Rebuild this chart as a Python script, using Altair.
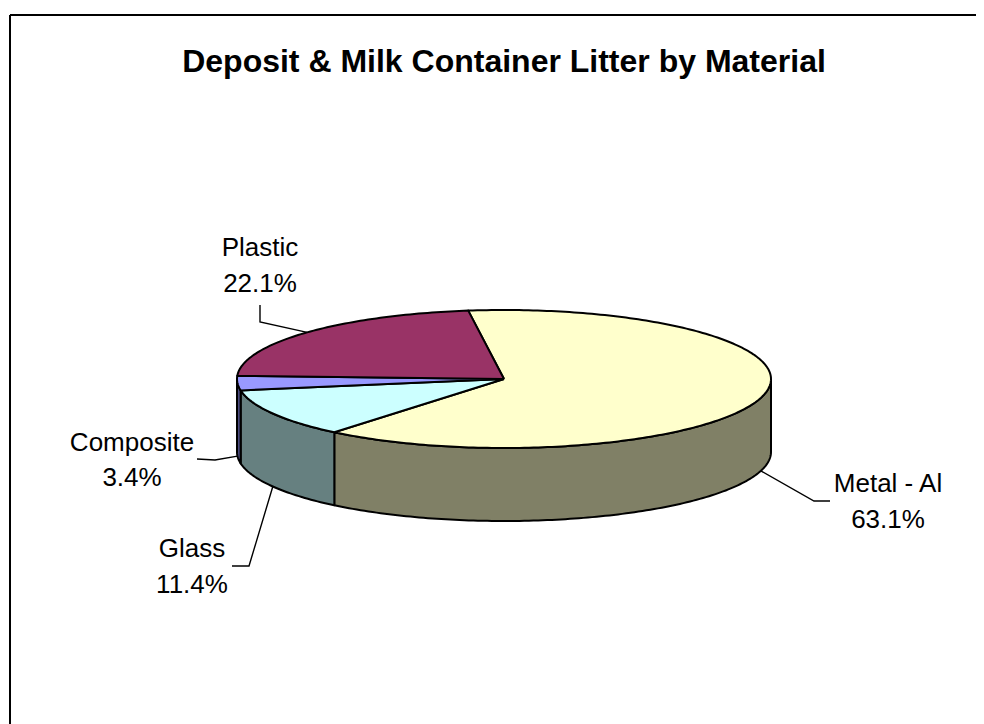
import altair as alt
import numpy as np
import pandas as pd

TITLE = "Deposit & Milk Container Litter by Material"
materials = ["Metal - Al", "Glass", "Composite", "Plastic"]
shares = [63.1, 11.4, 3.4, 22.1]
share_labels = ["63.1%", "11.4%", "3.4%", "22.1%"]
top_colors = ["#FFFFCC", "#CCFFFF", "#9999FF", "#993366"]
wall_colors = ["#808066", "#668080", "#4C4C80", "#4C1A33"]

# layout of the tilted pie, in page pixels
W, H = 968, 716
CX, CY, RX, RY, DEPTH = 504, 379, 267, 69, 73
START = -7.7
OX, OY = 8, 8


def pt(a, drop=0):
    r = np.radians(a)
    return CX + RX * np.sin(r), CY - RY * np.cos(r) + drop


edges = START + np.concatenate([[0], np.cumsum(shares)]) * 3.6
poly = []


def add_poly(name, color, pts):
    pts = list(pts) + [pts[0]]
    for i, (x, y) in enumerate(pts):
        poly.append(dict(poly=name, color=color, x=x, y=y, i=i))


def arc(a, b):
    n = max(2, int(abs(b - a)) + 2)
    return np.linspace(a, b, n)


# front wall: only the part of the rim between 3 o'clock and 9 o'clock
for k, m in enumerate(materials):
    a, b = max(edges[k], 90), min(edges[k + 1], 270)
    if a < b:
        rim = arc(a, b)
        add_poly("0wall" + m, wall_colors[k],
                 [pt(t) for t in rim] + [pt(t, DEPTH) for t in rim[::-1]])
for k, m in enumerate(materials):
    rim = arc(edges[k], edges[k + 1])
    add_poly("1top" + m, top_colors[k], [(CX, CY)] + [pt(t) for t in rim])
polys = pd.DataFrame(poly)

xs = alt.X("x:Q", scale=alt.Scale(domain=[OX, OX + W]), axis=None)
ys = alt.Y("y:Q", scale=alt.Scale(domain=[OY + H, OY]), axis=None)

slices = alt.Chart(polys).mark_line(
    stroke="#000000", strokeWidth=2, strokeJoin="round"
).encode(
    x=xs, y=ys, order="i:Q", detail="poly:N",
    fill=alt.Fill("color:N", scale=None),
)

# leader lines: rim midpoint -> elbow -> end; labels centred beside them
elbows = {"Metal - Al": [(814, 501), (830, 501)],
          "Glass": [(249, 566), (232, 566)],
          "Composite": [(215, 460), (197, 459)],
          "Plastic": [(260, 322), (260, 305)]}
label_pos = {"Metal - Al": (888, 484, 520),
             "Glass": (192, 549, 585),
             "Composite": (132, 443, 478),
             "Plastic": (260, 248, 284)}
leaders, texts = [], []
for k, m in enumerate(materials):
    mid = (edges[k] + edges[k + 1]) / 2
    front = 90 < mid < 270
    chain = [pt(mid, DEPTH if front else 0)] + elbows[m]
    for i, (x, y) in enumerate(chain):
        leaders.append(dict(m=m, x=x, y=y, i=i))
    lx, y1, y2 = label_pos[m]
    texts.append(dict(x=lx, y=y1, t=m))
    texts.append(dict(x=lx, y=y2, t=share_labels[k]))

leader_layer = alt.Chart(pd.DataFrame(leaders)).mark_line(
    stroke="#000000", strokeWidth=1.4
).encode(x=xs, y=ys, order="i:Q", detail="m:N")

label_layer = alt.Chart(pd.DataFrame(texts)).mark_text(
    font="Liberation Sans", fontSize=26, align="center", baseline="middle", color="#000000"
).encode(x=xs, y=ys, text="t:N")

title_layer = alt.Chart(pd.DataFrame([dict(x=504, y=62, t=TITLE)])).mark_text(
    font="Liberation Sans", fontSize=32, fontWeight="bold", align="center",
    baseline="middle", color="#000000"
).encode(x=xs, y=ys, text="t:N")

frame_rows = pd.DataFrame([
    dict(s="top", x=10, y=15, i=0), dict(s="top", x=OX + W, y=15, i=1),
    dict(s="left", x=10, y=15, i=0), dict(s="left", x=10, y=OY + H, i=1),
])
frame = alt.Chart(frame_rows).mark_line(stroke="#000000", strokeWidth=2).encode(
    x=xs, y=ys, order="i:Q", detail="s:N"
)

chart = alt.layer(frame, leader_layer, slices, label_layer, title_layer).properties(
    width=W, height=H, padding=0, autosize=alt.AutoSizeParams(type="none"),
    background="#FFFFFF",
).configure_view(stroke=None)

chart.save("out.html", embed_options={"renderer": "svg", "actions": False})
